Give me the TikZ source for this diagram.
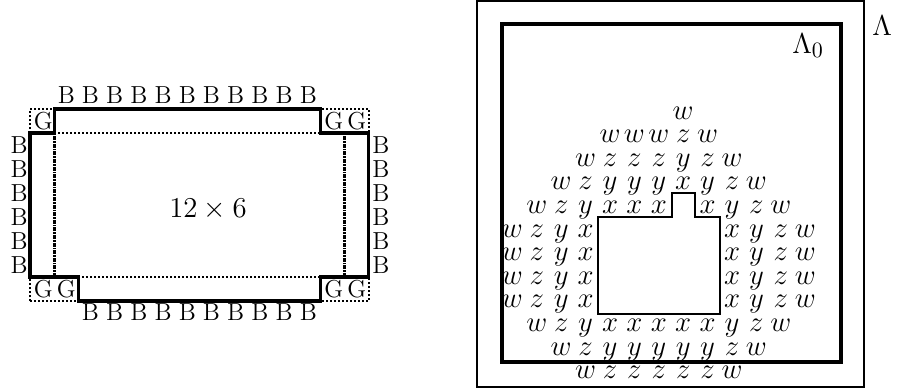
\documentclass[tikz,border=0pt]{standalone}
\begin{document}
\begin{tikzpicture}[x=0.5pt,y=-0.5pt,
  lab/.style={inner sep=0pt,font=\fontsize{12.3}{14}\selectfont},
  big/.style={inner sep=0pt,font=\fontsize{14.5}{16}\selectfont},
  let/.style={inner sep=0pt,anchor=base,font=\fontsize{13.5}{15}\selectfont},
  lam/.style={inner sep=0pt,anchor=base west,font=\fontsize{15.5}{17}\selectfont},
  thickb/.style={line width=1.6pt,line join=miter},
  dots/.style={line width=1.1pt,dash pattern=on 1pt off 1pt},
  dashdots/.style={line width=1.3pt,dash pattern=on 2pt off 0.5pt on 0.8pt off 0.5pt}]
\useasboundingbox (0,0) rectangle (897,391);
% ---------------- left figure ----------------
\begin{scope}[shift={(15pt,-150.5pt)},x=12.1pt,y=12pt]
  \draw[dots] (0,0) rectangle (14,8);
  \draw[dots] (1,7) -- (13,7);
  \draw[dots] (1,1) -- (13,1);
  \draw[dashdots] (1,1) -- (1,7);
  \draw[dashdots] (13,1) -- (13,7);
  \draw[thickb] (1,8) -- (12,8) -- (12,7) -- (14,7) -- (14,1) -- (12,1) -- (12,0)
     -- (2,0) -- (2,1) -- (0,1) -- (0,7) -- (1,7) -- cycle;
  \foreach \i in {1,...,11} \node[lab,anchor=base] (bt\i) at (\i+0.5,8.25) {B};
  \foreach \i in {2,...,11} \node[lab,anchor=base] (bb\i) at (\i+0.5,-0.8) {B};
  \foreach \j in {1,...,6} \node[lab] (bl\j) at (-0.45,\j+0.5) {B};
  \foreach \j in {1,...,6} \node[lab] (br\j) at (14.5,\j+0.5) {B};
  \node[lab] (g1) at (0.55,7.5) {G};
  \node[lab] (g2) at (12.55,7.5) {G};
  \node[lab] (g3) at (13.5,7.5) {G};
  \node[lab] (g4) at (0.55,0.5) {G};
  \node[lab] (g5) at (1.5,0.5) {G};
  \node[lab] (g6) at (12.55,0.5) {G};
  \node[lab] (g7) at (13.5,0.5) {G};
\end{scope}
\node[big,anchor=base] (size) at (208,217) {$12\times 6$};
% ---------------- right figure ----------------
\draw[line width=1pt] (477,1) rectangle (864,387);
\draw[line width=1.6pt] (502,24) rectangle (841,362);
\draw[line width=1.2pt,line join=miter] (598,217) -- (672,217) -- (672,193) -- (695,193)
   -- (695,217) -- (720,217) -- (720,314) -- (598,314) -- cycle;
\node[lam] (Lam) at (872,35) {$\Lambda$};
\node[lam] (Lam0) at (792,53) {$\Lambda_0$};
\foreach \c/\r/\l [count=\k] in {
  3/-5/w,
  0/-4/w,1/-4/w,2/-4/w,3/-4/z,4/-4/w,
  -1/-3/w,0/-3/z,1/-3/z,2/-3/z,3/-3/y,4/-3/z,5/-3/w,
  -2/-2/w,-1/-2/z,0/-2/y,1/-2/y,2/-2/y,3/-2/x,4/-2/y,5/-2/z,6/-2/w,
  -3/-1/w,-2/-1/z,-1/-1/y,0/-1/x,1/-1/x,2/-1/x,4/-1/x,5/-1/y,6/-1/z,7/-1/w,
  -4/0/w,-3/0/z,-2/0/y,-1/0/x,5/0/x,6/0/y,7/0/z,8/0/w,
  -4/1/w,-3/1/z,-2/1/y,-1/1/x,5/1/x,6/1/y,7/1/z,8/1/w,
  -4/2/w,-3/2/z,-2/2/y,-1/2/x,5/2/x,6/2/y,7/2/z,8/2/w,
  -4/3/w,-3/3/z,-2/3/y,-1/3/x,5/3/x,6/3/y,7/3/z,8/3/w,
  -3/4/w,-2/4/z,-1/4/y,0/4/x,1/4/x,2/4/x,3/4/x,4/4/x,5/4/y,6/4/z,7/4/w,
  -2/5/w,-1/5/z,0/5/y,1/5/y,2/5/y,3/5/y,4/5/y,5/5/z,6/5/w,
  -1/6/w,0/6/z,1/6/z,2/6/z,3/6/z,4/6/z,5/6/w}
  \node[let] (L\k) at ({610+24.4*\c},{237+23.6*\r}) {$\l$};
\end{tikzpicture}
\end{document}
